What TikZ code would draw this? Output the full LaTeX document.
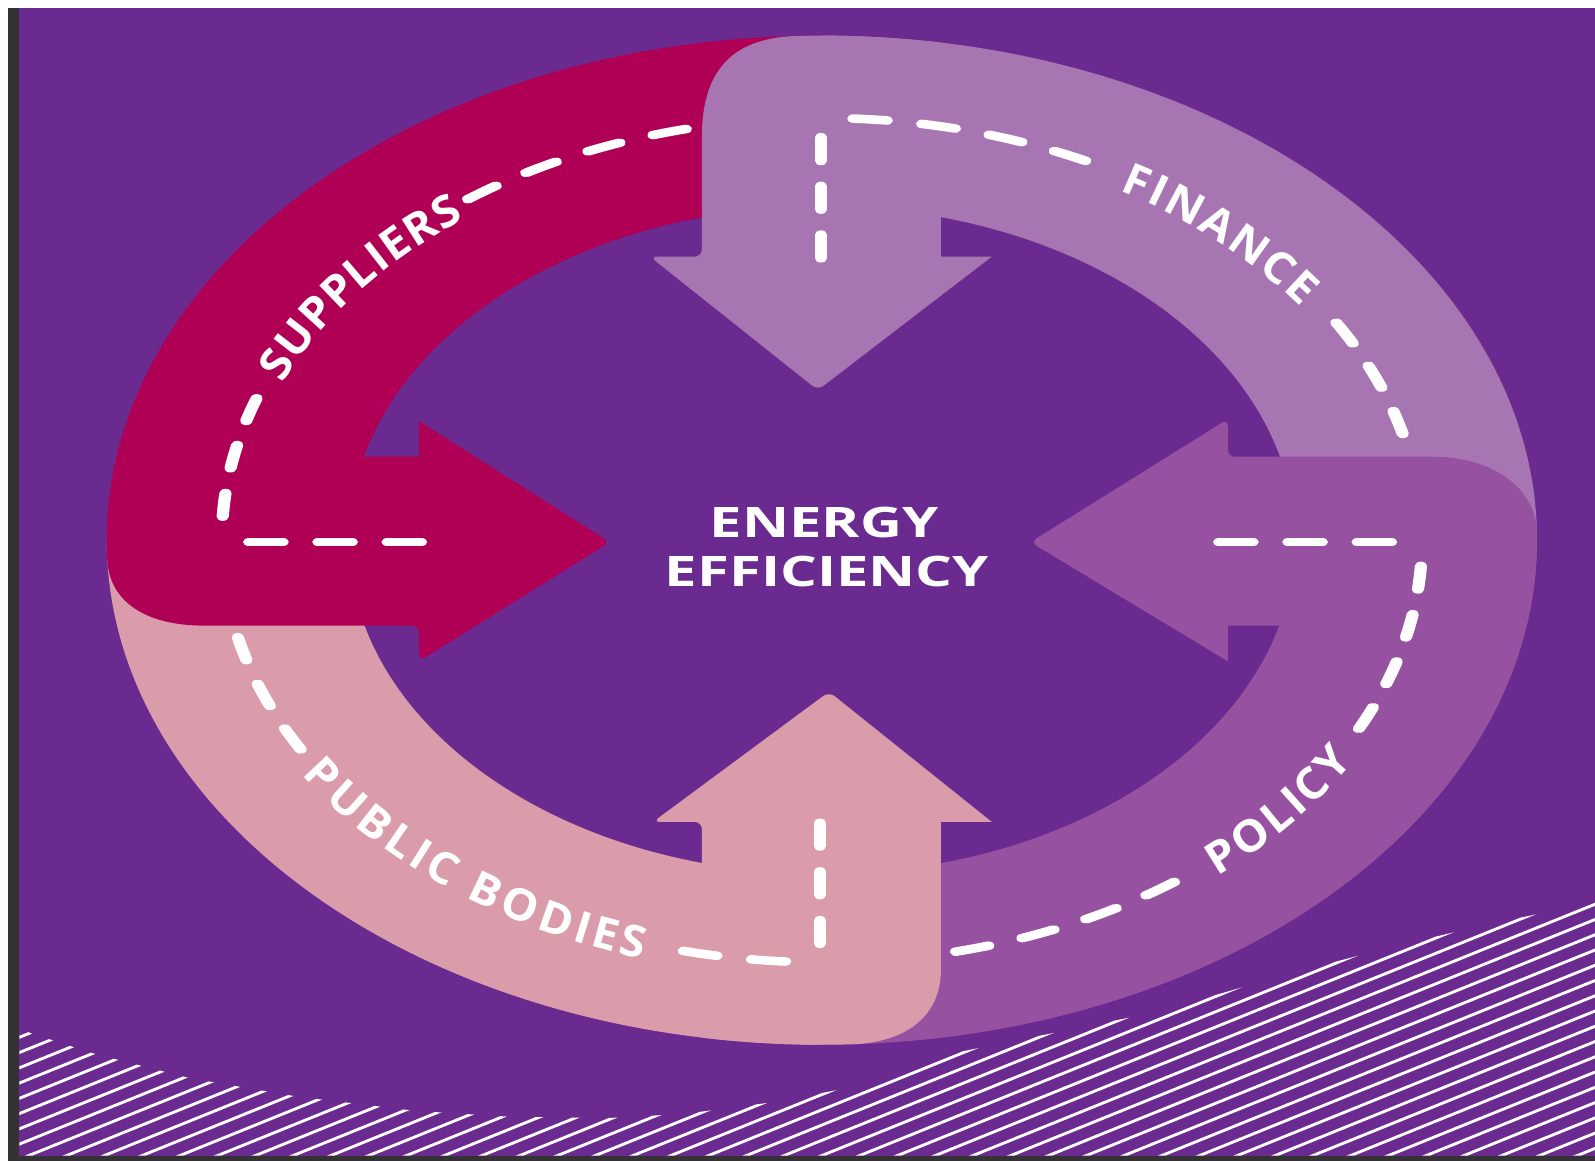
\documentclass[tikz,border=0pt]{standalone}
\usepackage{fontspec}
\newfontfamily\widefont{Open Sans}[FakeStretch=1.38]
\newfontfamily\lblfamily{Open Sans}[FakeStretch=1.05]
\usetikzlibrary{decorations.text}
\definecolor{bgcol}{RGB}{107,42,143}
\definecolor{framecol}{RGB}{52,50,52}
\definecolor{supcol}{RGB}{176,0,86}
\definecolor{fincol}{RGB}{167,118,178}
\definecolor{polcol}{RGB}{150,82,160}
\definecolor{pubcol}{RGB}{218,155,171}
\newcommand\lblfont{\lblfamily\bfseries\fontsize{12.3pt}{14pt}\selectfont}
\newcommand\titlefont{\widefont\bfseries\fontsize{11.75pt}{14pt}\selectfont}

\begin{document}
\begin{tikzpicture}[x=0.01cm, y=0.01cm,
  roadline/.style={white, line width=0.12cm, line cap=round, dash pattern=on 0.33cm off 0.35cm},
  hatchline/.style={white, line width=0.8pt},
  arclabel/.style={decorate, decoration={text along path, text align=fit to path, text color=white, raise=-0.155cm}},
  title/.style={font=\titlefont, text=white, inner sep=0pt, anchor=base}]
  \useasboundingbox (-808,-610) rectangle (760,531);
  \fill[white] (-808,-610) rectangle (760,531);
  \fill[framecol] (-800,-610) rectangle (760,523);
  \fill[bgcol] (-789,-605) rectangle (760,523);

  % hatching at the bottom
  \begin{scope}
    \clip (-789,-477) -- (-778.5,-484.5) -- (-715,-505) -- (-621,-529) -- (-516,-547)
      -- (-400,-561) -- (-304,-567) -- (-208,-568) -- (-135,-564) -- (-44,-552)
      -- (18,-540) -- (121,-506) -- (329,-464) -- (455,-427.5) -- (560,-400)
      -- (649,-379) -- (728,-362.5) -- (760,-354) -- (760,-605) -- (-789,-605) -- cycle;
    \foreach \c in {-920,-905,...,-140}
      \draw[hatchline] (-800,{\c-323.2}) -- (770,{\c+311.1});
  \end{scope}

  % ring bands
  \fill[fincol] (90:703 and 496) arc[start angle=90, end angle=0, x radius=703, y radius=496]
    -- (0:465 and 328) arc[start angle=0, end angle=90, x radius=465, y radius=328] -- cycle;
  \fill[polcol] (0:703 and 496) arc[start angle=0, end angle=-90, x radius=703, y radius=496]
    -- (-90:465 and 328) arc[start angle=-90, end angle=0, x radius=465, y radius=328] -- cycle;
  \fill[pubcol] (-90:703 and 496) arc[start angle=-90, end angle=-180, x radius=703, y radius=496]
    -- (-180:465 and 328) arc[start angle=-180, end angle=-90, x radius=465, y radius=328] -- cycle;
  \fill[supcol] (180:703 and 496) arc[start angle=180, end angle=90, x radius=703, y radius=496]
    -- (90:465 and 328) arc[start angle=90, end angle=180, x radius=465, y radius=328] -- cycle;

  % arrow heads
  \fill[fincol] (117,489.1) -- (117,278.7) -- (167,278.7) [rounded corners=0.07cm] -- (-4,147.5)
    -- (-169,278.7) -- (-118,278.7) [sharp corners] -- (-118,396)
    .. controls (-118,470) and (-80,495.8) .. (-18,495.8)
    arc[start angle=91.47, end angle=80.42, x radius=703, y radius=496] -- cycle;
  \fill[polcol] (692.9,-84) -- (399,-84) -- (399,-119) [rounded corners=0.07cm] -- (205,-2)
    -- (399,119) -- (399,82) [sharp corners] -- (601,82)
    .. controls (660,82) and (702.9,50) .. (702.9,7)
    arc[start angle=0.81, end angle=-9.75, x radius=703, y radius=496] -- cycle;
  \fill[pubcol] (117,-422) -- (117,-277) -- (167,-277) [rounded corners=0.07cm] -- (7,-149)
    -- (-166,-277) -- (-118,-277) [sharp corners] -- (-118,-489)
    arc[start angle=-99.66, end angle=-88.13, x radius=703, y radius=496]
    .. controls (80,-495.7) and (117,-470) .. (117,-422) -- cycle;
  \fill[supcol] (-396,82) -- (-396,117) [rounded corners=0.07cm] -- (-208.5,-2)
    -- (-396,-119) -- (-396,-84) [sharp corners] -- (-608,-84)
    .. controls (-665,-84) and (-702.7,-60) .. (-702.7,-15)
    arc[start angle=181.73, end angle=170.48, x radius=703, y radius=496] -- cycle;

  % dashed lines
  \begin{scope}[transform canvas={yscale=0.70339}]
    \draw[roadline] (-394,-2.8) -- (-575,-2.8);
    \draw[roadline] (176.8:590) arc[start angle=176.8, end angle=159, radius=590];
    \draw[roadline] (103.1:590) arc[start angle=103.1, end angle=126.5, radius=590];
    \draw[roadline] (-1,394) -- (-1,575);
    \draw[roadline] (87:590) arc[start angle=87, end angle=62, radius=590];
    \draw[roadline] (31:590) arc[start angle=31, end angle=12, radius=590];
    \draw[roadline] (390.5,-2.8) -- (575,-2.8);
    \draw[roadline] (-3.5:590) arc[start angle=-3.5, end angle=-28, radius=590];
    \draw[roadline] (-77.1:590) arc[start angle=-77.1, end angle=-52, radius=590];
    \draw[roadline] (-2,-395) -- (-2,-575);
    \draw[roadline] (-93.5:590) arc[start angle=-93.5, end angle=-104, radius=590];
    \draw[roadline] (-166.7:590) arc[start angle=-166.7, end angle=-149.5, radius=590];
  \end{scope}

  % labels
  \path[arclabel, decoration={text={|\lblfont|SUPPLIERS}}]
    (157:590 and 415) arc[start angle=157, end angle=127.5, x radius=590, y radius=415];
  \path[arclabel, decoration={text={|\lblfont|FINANCE}}]
    (59.6:590 and 415) arc[start angle=59.6, end angle=35.3, x radius=590, y radius=415];
  \path[arclabel, decoration={text={|\lblfont|POLICY}}]
    (-49.8:590 and 415) arc[start angle=-49.8, end angle=-30, x radius=590, y radius=415];
  \path[arclabel, decoration={text={|\lblfont|PUBLIC BODIES}}]
    (-148:590 and 415) arc[start angle=-148, end angle=-107, x radius=590, y radius=415];

  \node[title] (energy) at (2,3) {ENERGY};
  \node[title] (efficiency) at (5,-46) {EFFICIENCY};
\end{tikzpicture}
\end{document}
